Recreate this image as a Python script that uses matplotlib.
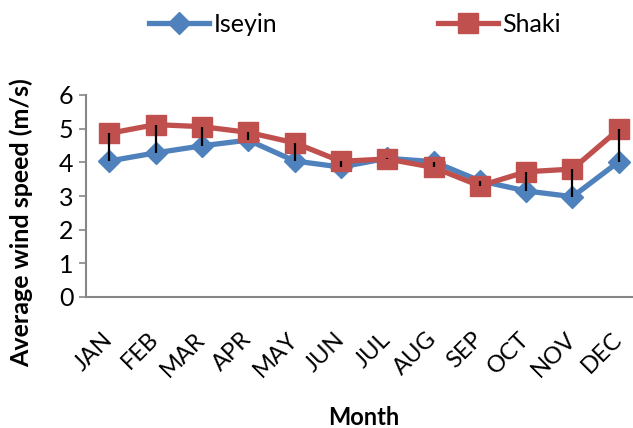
import numpy as np
import matplotlib.pyplot as plt

plt.rcParams['font.family'] = ['Lato', 'DejaVu Sans']

months = ["JAN", "FEB", "MAR", "APR", "MAY", "JUN",
          "JUL", "AUG", "SEP", "OCT", "NOV", "DEC"]
iseyin = [4.04, 4.28, 4.49, 4.66, 4.04, 3.86, 4.12, 4.02, 3.45, 3.15, 2.98, 4.02]
shaki = [4.86, 5.12, 5.06, 4.89, 4.58, 4.03, 4.10, 3.85, 3.30, 3.72, 3.80, 4.98]

blue = "#4F81BD"
red = "#C0504D"
grey = "#868686"

fig = plt.figure(figsize=(6.33, 4.28), dpi=100)
ax = fig.add_axes([86 / 633, 1 - 297 / 428, 556 / 633, 202 / 428])

x = np.arange(len(months))
ax.plot(x, iseyin, color=blue, lw=3.8, marker="D", ms=11,
        label="Iseyin", zorder=3)
ax.plot(x, shaki, color=red, lw=3.8, marker="s", ms=14,
        label="Shaki", zorder=4)

# high-low lines between the two stations
ax.vlines(x, np.minimum(iseyin, shaki), np.maximum(iseyin, shaki),
          color="black", lw=1.6, zorder=5)

ax.set_xlim(-0.5, len(months) - 0.5)
ax.set_ylim(0, 6)
ax.set_yticks(range(0, 7))
ax.set_xticks(x)
ax.set_xticklabels(months, rotation=45, ha="right", va="center",
                   rotation_mode="anchor", fontsize=17)
ax.tick_params(axis="x", length=0, pad=28)
ax.tick_params(axis="y", length=5, width=1.2, color=grey, labelsize=18, pad=4)

for side in ("top", "right"):
    ax.spines[side].set_visible(False)
for side in ("left", "bottom"):
    ax.spines[side].set_color(grey)
    ax.spines[side].set_linewidth(1.5)

ax.set_ylabel("Average wind speed (m/s)", fontsize=18, fontweight="bold")
ax.yaxis.set_label_coords(-0.095, 0.37)
ax.set_xlabel("Month", fontsize=17, fontweight="bold")
ax.xaxis.set_label_coords(278 / 556, -0.54)

fig.legend(loc="center", bbox_to_anchor=(355 / 633, 1 - 24 / 428), ncol=2,
           frameon=False, fontsize=18, handlelength=2.4, columnspacing=6.4,
           handletextpad=0.2)

fig.savefig("out.png", dpi=100)
